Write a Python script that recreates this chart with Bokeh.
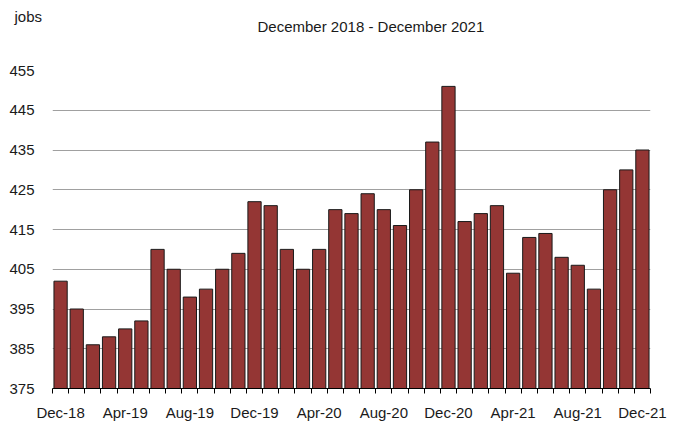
from bokeh.plotting import figure
from bokeh.models import ColumnDataSource, FixedTicker, Range1d, Title
from bokeh.embed import file_html
from bokeh.resources import INLINE

months = ["Dec-18", "Jan-19", "Feb-19", "Mar-19", "Apr-19", "May-19", "Jun-19", "Jul-19",
          "Aug-19", "Sep-19", "Oct-19", "Nov-19", "Dec-19", "Jan-20", "Feb-20", "Mar-20",
          "Apr-20", "May-20", "Jun-20", "Jul-20", "Aug-20", "Sep-20", "Oct-20", "Nov-20",
          "Dec-20", "Jan-21", "Feb-21", "Mar-21", "Apr-21", "May-21", "Jun-21", "Jul-21",
          "Aug-21", "Sep-21", "Oct-21", "Nov-21", "Dec-21"]
jobs = [402, 395, 386, 388, 390, 392, 410, 405, 398, 400, 405, 409, 422, 421, 410, 405,
        410, 420, 419, 424, 420, 416, 425, 437, 451, 417, 419, 421, 404, 413, 414, 408,
        406, 400, 425, 430, 435]
y_ticks = [375, 385, 395, 405, 415, 425, 435, 445, 455]
title_text = "December 2018 - December 2021"
unit_text = "jobs"

idx = list(range(len(months)))
src = ColumnDataSource(data=dict(x=idx, top=jobs, label=months))

FONT = "Liberation Sans"

p = figure(output_backend="svg", toolbar_location=None,
           frame_width=598, frame_height=318,
           min_border_left=52, min_border_top=70, min_border_right=23, min_border_bottom=27)
p.x_range = Range1d(-0.5, len(months) - 0.5)
p.y_range = Range1d(375, 455)

p.vbar(x="x", top="top", bottom=375, width=0.82, source=src,
       fill_color="#943634", line_color="#1a1a1a", line_width=1)

p.outline_line_color = None
p.background_fill_color = "white"
p.border_fill_color = "white"

# y axis
p.yaxis.ticker = FixedTicker(ticks=y_ticks)
p.yaxis.axis_line_color = None
p.yaxis.major_tick_line_color = None
p.yaxis.minor_tick_line_color = None
p.yaxis.major_label_text_font = FONT
p.yaxis.major_label_text_font_size = "15px"
p.yaxis.major_label_text_color = "#1a1a1a"
p.yaxis.major_label_standoff = 12

# x axis
label_pos = [i for i in idx if i % 4 == 0]
p.xaxis.ticker = FixedTicker(ticks=label_pos, minor_ticks=[i - 0.5 for i in range(len(months) + 1)])
p.xaxis.major_label_overrides = {i: months[i] for i in label_pos}
p.xaxis.major_tick_line_color = None
p.xaxis.major_tick_out = 5
p.xaxis.minor_tick_out = 5
p.xaxis.minor_tick_in = 0
p.xaxis.minor_tick_line_color = "black"
p.xaxis.axis_line_color = "black"
p.xaxis.major_label_text_font = FONT
p.xaxis.major_label_text_font_size = "15px"
p.xaxis.major_label_text_color = "#1a1a1a"
p.xaxis.major_label_standoff = 10

p.xgrid.grid_line_color = None
p.ygrid.ticker = FixedTicker(ticks=y_ticks[1:])
p.ygrid.grid_line_color = "#a0a0a0"
p.ygrid.grid_line_width = 1

# blank spacer panel directly above the frame
p.add_layout(Title(text=" ", align="left", text_font=FONT, text_font_size="15px",
                   text_font_style="normal", standoff=27), "above")
p.add_layout(Title(text=unit_text, align="left", offset=-38,
                   text_font=FONT, text_font_size="15px", text_font_style="normal",
                   text_color="#1a1a1a", standoff=0), "above")
p.title = Title(text=title_text, align="left", offset=205,
                text_font=FONT, text_font_size="15px", text_font_style="normal",
                text_color="#1a1a1a", standoff=-58)

open("out.html", "w").write(file_html(p, INLINE))
